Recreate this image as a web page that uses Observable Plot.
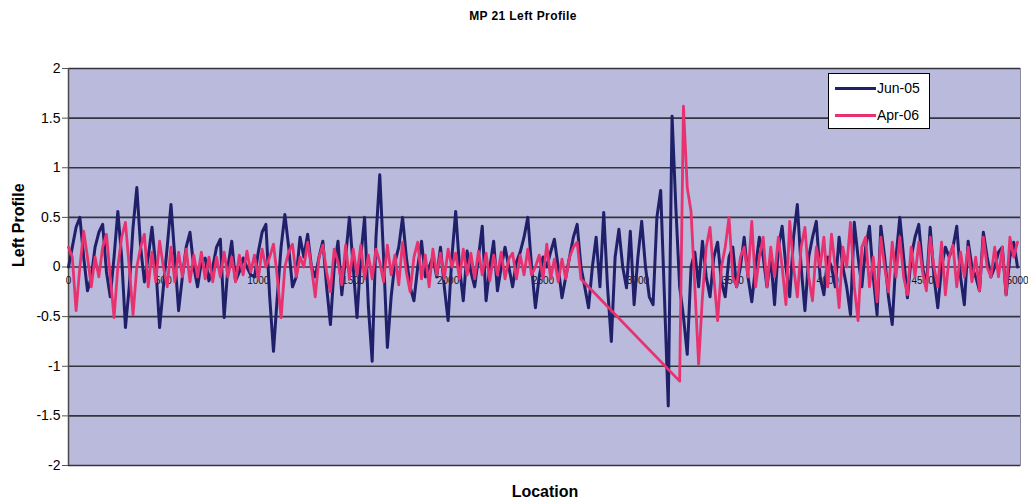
<!DOCTYPE html>
<html><head><meta charset="utf-8">
<script src="https://cdn.jsdelivr.net/npm/d3@7"></script>
<script src="https://cdn.jsdelivr.net/npm/@observablehq/plot@0.6"></script>
<style>
body{margin:0;background:#fff;font-family:Arial,"Liberation Sans",sans-serif;}
#wrap{position:relative;width:1028px;height:502px;overflow:hidden;background:#fff;}
#title{box-sizing:border-box;width:1028px;height:30px;line-height:32px;padding-left:18px;text-align:center;font-weight:bold;font-size:12px;letter-spacing:0.4px;color:#000;}
#xlabel{box-sizing:border-box;width:1028px;height:22px;line-height:24px;padding-left:62px;text-align:center;font-weight:bold;font-size:16px;color:#000;}
#chart{height:450px;}
#legend{position:absolute;left:828px;top:73px;width:100px;height:54px;border:1px solid #000;background:#fff;}
.item{position:absolute;left:0;height:20px;width:100px;}
.sw{position:absolute;left:6px;top:9px;width:41px;height:3px;}
.lt{position:absolute;left:48px;top:1px;font-size:14px;line-height:18px;color:#000;}
</style></head>
<body>
<div id="wrap">
  <div id="title">MP 21 Left Profile</div>
  <div id="chart"></div>
  <div id="xlabel">Location</div>
  <div id="legend"></div>
</div>
<script>
const seriesNames = ["Jun-05", "Apr-06"];
const seriesColors = ["#20206a", "#e8326f"];
const step = 20;
const xTicks = [0, 500, 1000, 1500, 2000, 2500, 3000, 3500, 4000, 4500, 5000];
const yTicks = [2, 1.5, 1, 0.5, 0, -0.5, -1, -1.5, -2];

const jun05 = [
  0.0, 0.2, 0.4, 0.5, 0.1, -0.24, -0.1, 0.2, 0.35, 0.43,
  -0.05, -0.3, 0.1, 0.56, 0.1, -0.61, -0.2, 0.4, 0.8, 0.2,
  -0.15, 0.1, 0.4, 0.0, -0.61, -0.2, 0.2, 0.63, 0.1, -0.44,
  -0.1, 0.2, 0.35, 0.0, -0.2, 0.05, 0.09, -0.14, 0.0, 0.2,
  0.28, -0.51, 0.0, 0.26, -0.14, -0.05, 0.09, 0.0, -0.08, -0.1,
  0.15, 0.35, 0.43, -0.3, -0.85, -0.3, 0.2, 0.53, 0.2, -0.2,
  -0.1, 0.3, 0.1, 0.33, 0.0, -0.1, 0.1, 0.26, -0.2, -0.58,
  0.0, 0.26, -0.28, 0.1, 0.5, 0.0, -0.51, 0.1, 0.5, -0.4,
  -0.95, 0.3, 0.93, 0.1, -0.81, -0.3, 0.05, 0.2, 0.5, 0.1,
  -0.2, -0.34, 0.0, 0.26, -0.1, 0.0, 0.1, -0.1, 0.2, -0.2,
  -0.54, 0.1, 0.56, 0.0, -0.34, 0.16, -0.05, -0.2, 0.1, 0.41,
  -0.34, 0.0, 0.26, -0.24, 0.0, 0.2, 0.0, -0.2, 0.05, 0.15,
  0.3, 0.5, 0.0, -0.41, -0.1, 0.1, 0.0, 0.15, 0.28, 0.0,
  -0.31, -0.1, 0.1, 0.3, 0.43, 0.0, -0.2, -0.41, 0.0, 0.3,
  -0.2, 0.55, -0.2, -0.75, 0.1, 0.38, 0.0, -0.21, 0.36, -0.38,
  0.1, 0.46, 0.0, -0.3, -0.38, 0.5, 0.77, -0.31, -1.4, 1.52,
  0.6, -0.2, -0.5, -0.88, 0.0, 0.15, -0.2, 0.26, -0.1, -0.3,
  0.1, 0.25, -0.15, -0.3, 0.1, 0.2, -0.2, 0.0, 0.3, -0.1,
  -0.35, 0.0, 0.3, 0.1, -0.2, 0.1, -0.38, 0.2, 0.41, 0.0,
  -0.3, 0.3, 0.63, 0.0, -0.44, 0.1, 0.3, 0.46, -0.1, -0.28,
  0.1, 0.0, -0.2, 0.3, 0.0, -0.2, -0.48, 0.45, 0.1, -0.2,
  0.2, 0.41, -0.1, -0.48, 0.41, 0.1, -0.3, -0.58, 0.1, 0.5,
  0.1, -0.31, 0.1, 0.3, 0.43, 0.0, -0.2, 0.4, -0.1, -0.41,
  0.0, 0.2, 0.1, 0.2, 0.41, -0.1, -0.38, 0.26, 0.0, -0.1,
  -0.24, 0.35, 0.1, -0.1, 0.0, 0.15, 0.2, -0.28, 0.1, 0.25,
  0.0
];

const apr06 = [
  0.2, 0.1, -0.44, 0.0, 0.36, 0.1, -0.2, 0.1, -0.1, 0.2,
  0.33, -0.1, -0.51, 0.0, 0.3, 0.45, 0.0, -0.48, 0.0, 0.2,
  0.33, -0.2, 0.15, -0.15, 0.26, 0.0, -0.2, 0.2, -0.15, 0.15,
  -0.1, 0.18, -0.15, 0.12, -0.1, 0.15, -0.12, 0.1, -0.15, 0.1,
  -0.1, 0.15, -0.1, 0.1, -0.15, 0.12, -0.08, 0.16, -0.05, 0.12,
  -0.12, 0.18, 0.0, 0.1, 0.23, -0.1, -0.51, 0.0, 0.15, 0.23,
  -0.1, 0.1, 0.0, 0.25, 0.0, -0.3, 0.1, 0.22, -0.05, -0.25,
  0.18, 0.05, -0.18, 0.22, -0.12, 0.18, -0.08, 0.22, -0.12, 0.12,
  -0.12, 0.18, 0.05, -0.15, 0.22, -0.08, 0.12, -0.18, 0.25, -0.05,
  -0.25, 0.1, 0.25, -0.12, 0.12, -0.2, 0.18, -0.08, 0.14, -0.12,
  0.18, 0.0, 0.14, -0.12, 0.18, -0.08, 0.14, -0.12, 0.16, -0.08,
  0.14, -0.14, 0.12, -0.08, 0.15, -0.12, 0.08, 0.14, -0.12, 0.12,
  -0.08, 0.18, -0.08, 0.0, 0.12, -0.12, 0.23, -0.12, 0.08, -0.15,
  0.08, -0.12, 0.1, 0.2, 0.25, -0.12, null, null, null, null,
  null, null, null, null, null, null, null, null, null, null,
  null, null, null, null, null, null, null, null, null, null,
  null, -1.15, 1.62, 0.8, 0.56, -0.2, -0.98, -0.3, 0.2, 0.4,
  -0.1, -0.54, 0.0, 0.2, 0.5, -0.1, -0.2, 0.1, 0.2, -0.1,
  0.46, -0.2, 0.1, 0.3, -0.2, 0.2, -0.1, 0.3, 0.0, -0.38,
  0.46, 0.0, -0.3, 0.2, 0.4, -0.1, -0.34, 0.2, 0.0, 0.3,
  -0.2, 0.33, 0.0, -0.41, 0.2, 0.0, 0.45, -0.2, -0.54, 0.2,
  0.3, -0.2, 0.1, -0.35, 0.3, 0.0, -0.25, 0.25, -0.1, 0.3,
  -0.1, -0.28, 0.2, -0.1, 0.25, -0.05, -0.24, 0.3, 0.0, -0.2,
  0.25, -0.28, 0.1, 0.22, -0.2, 0.15, -0.1, 0.2, -0.15, 0.1,
  -0.24, 0.3, 0.0, -0.1, 0.2, -0.1, 0.2, -0.28, 0.3, 0.1,
  0.25
];

const rows = jun05.map((v, i) => ({location: i * step, jun: v, apr: apr06[i]}));
const aprRows = rows.filter(d => d.apr != null);

const chart = Plot.plot({
  width: 1028,
  height: 450,
  marginLeft: 68,
  marginRight: 8,
  marginTop: 38,
  marginBottom: 15,
  x: {domain: [0, 5000], insetRight: 3, axis: null},
  y: {domain: [-2, 2], axis: null},
  style: {fontFamily: "Arial, 'Liberation Sans', sans-serif", background: "transparent", color: "#000", overflow: "visible"},
  marks: [
    Plot.frame({fill: "#babadd", stroke: "#8a8a9a"}),
    Plot.ruleY(yTicks, {stroke: "#34343e", strokeWidth: 1.6}),
    Plot.ruleX([0], {stroke: "#4a4a4a", strokeWidth: 1.5}),
    Plot.axisY(yTicks, {tickSize: 6, tickPadding: 2, tickFormat: d => String(d), fontSize: 14, stroke: "#555", label: null}),
    Plot.text(xTicks, {x: d => d, y: 0, dy: 14, text: d => String(d), fontSize: 10, fill: "#111"}),
    Plot.line(rows, {x: "location", y: "jun", stroke: seriesColors[0], strokeWidth: 3}),
    Plot.line(aprRows, {x: "location", y: "apr", stroke: seriesColors[1], strokeWidth: 2.8}),
    Plot.text(["Left Profile"], {frameAnchor: "left", dx: -50, rotate: -90, fontSize: 16, fontWeight: "bold", fill: "#000"})
  ]
});
document.getElementById("chart").appendChild(chart);

const legend = document.getElementById("legend");
seriesNames.forEach((name, i) => {
  const item = document.createElement("div");
  item.className = "item";
  item.style.top = (4 + i * 27) + "px";
  const sw = document.createElement("span");
  sw.className = "sw";
  sw.style.background = seriesColors[i];
  const lt = document.createElement("span");
  lt.className = "lt";
  lt.textContent = name;
  item.appendChild(sw);
  item.appendChild(lt);
  legend.appendChild(item);
});
</script>
</body></html>
